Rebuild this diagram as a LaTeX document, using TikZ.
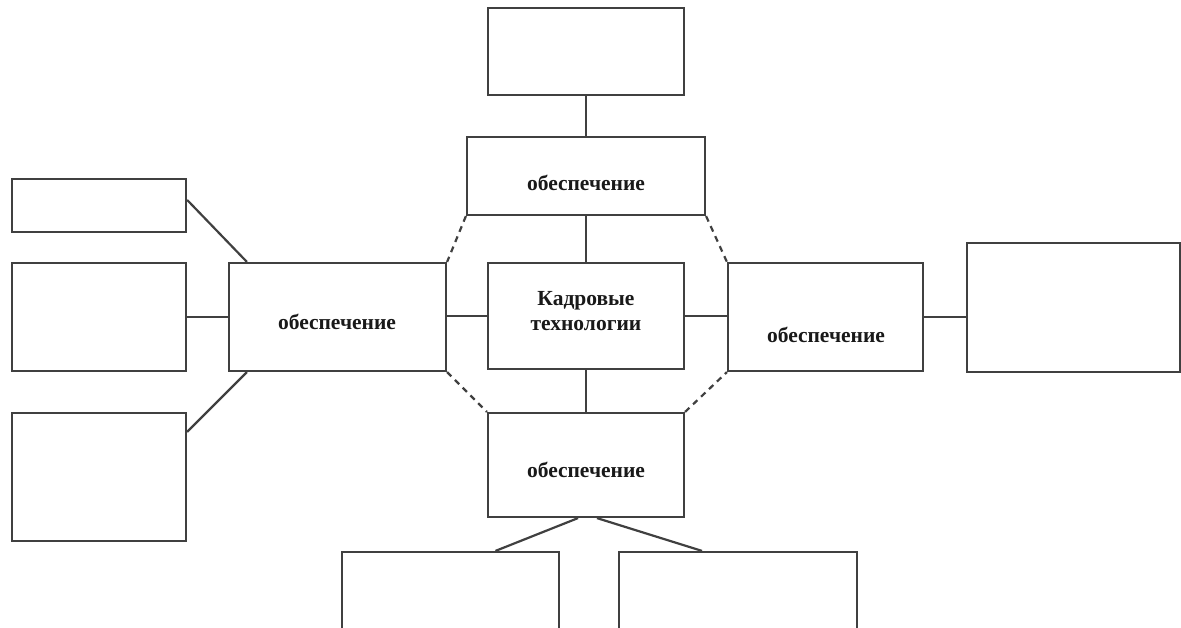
\documentclass[tikz,border=0pt]{standalone}
\usepackage{fontspec}
\setmainfont{Liberation Serif}
\usetikzlibrary{calc}
\begin{document}
\begin{tikzpicture}[x=1pt,y=-1pt,
  box/.style={draw=black!75, line width=2.2pt, fill=white, inner sep=0pt},
  conn/.style={draw=black!75, line width=2.2pt},
  dconn/.style={draw=black!75, line width=2.2pt, dash pattern=on 6pt off 5pt},
  lbl/.style={font=\fontsize{21.5}{25}\selectfont\bfseries, text=black!90, align=center, inner sep=0pt}]
\useasboundingbox (0,0) rectangle (1181,627);
\clip (0,0) rectangle (1181,627);
% boxes
\node[box, minimum width=174pt, minimum height=53pt]  (L1) at (99,205.5) {};
\node[box, minimum width=174pt, minimum height=108pt] (L2) at (99,317) {};
\node[box, minimum width=174pt, minimum height=128pt] (L3) at (99,477) {};
\node[box, minimum width=217pt, minimum height=108pt] (LM) at (337.5,317) {};
\node[box, minimum width=196pt, minimum height=87pt]  (T1) at (586,51.5) {};
\node[box, minimum width=238pt, minimum height=78pt]  (TM) at (586,176) {};
\node[box, minimum width=196pt, minimum height=106pt] (C)  at (586,316) {};
\node[box, minimum width=195pt, minimum height=108pt] (RM) at (825.5,317) {};
\node[box, minimum width=213pt, minimum height=129pt] (R1) at (1073.5,307.5) {};
\node[box, minimum width=196pt, minimum height=104pt] (BM) at (586,465) {};
\node[box, minimum width=217pt, minimum height=108pt] (BL) at (450.5,606) {};
\node[box, minimum width=238pt, minimum height=108pt] (BR) at (738,606) {};
% labels
\node[lbl] (tLM) at (337,322) {обеспечение};
\node[lbl] (tTM) at (586,183) {обеспечение};
\node[lbl] (tC)  at (586,311) {Кадровые\\технологии};
\node[lbl] (tRM) at (826,335) {обеспечение};
\node[lbl] (tBM) at (586,470) {обеспечение};
% connectors
\draw[conn] (T1.south) -- (TM.north);
\draw[conn] (TM.south) -- (C.north);
\draw[conn] (C.south) -- (BM.north);
\draw[conn] (LM.east |- C.west) -- (C.west);
\draw[conn] (C.east) -- (RM.west |- C.east);
\draw[conn] (RM.east) -- (R1.west |- RM.east);
\draw[conn] (L2.east) -- (LM.west);
\draw[conn] ($(L1.north east)+(0,22)$) -- ($(LM.north west)+(19,0)$);
\draw[conn] ($(L3.north east)+(0,20)$) -- ($(LM.south west)+(19,0)$);
\draw[conn] ($(BM.south)+(-8,0)$) -- ($(BL.north)+(45,0)$);
\draw[conn] ($(BM.south)+(11,0)$) -- ($(BR.north)+(-36,0)$);
\draw[dconn] (TM.south west) -- (LM.north east);
\draw[dconn] (TM.south east) -- (RM.north west);
\draw[dconn] (LM.south east) -- (BM.north west);
\draw[dconn] (BM.north east) -- (RM.south west);
\end{tikzpicture}
\end{document}
